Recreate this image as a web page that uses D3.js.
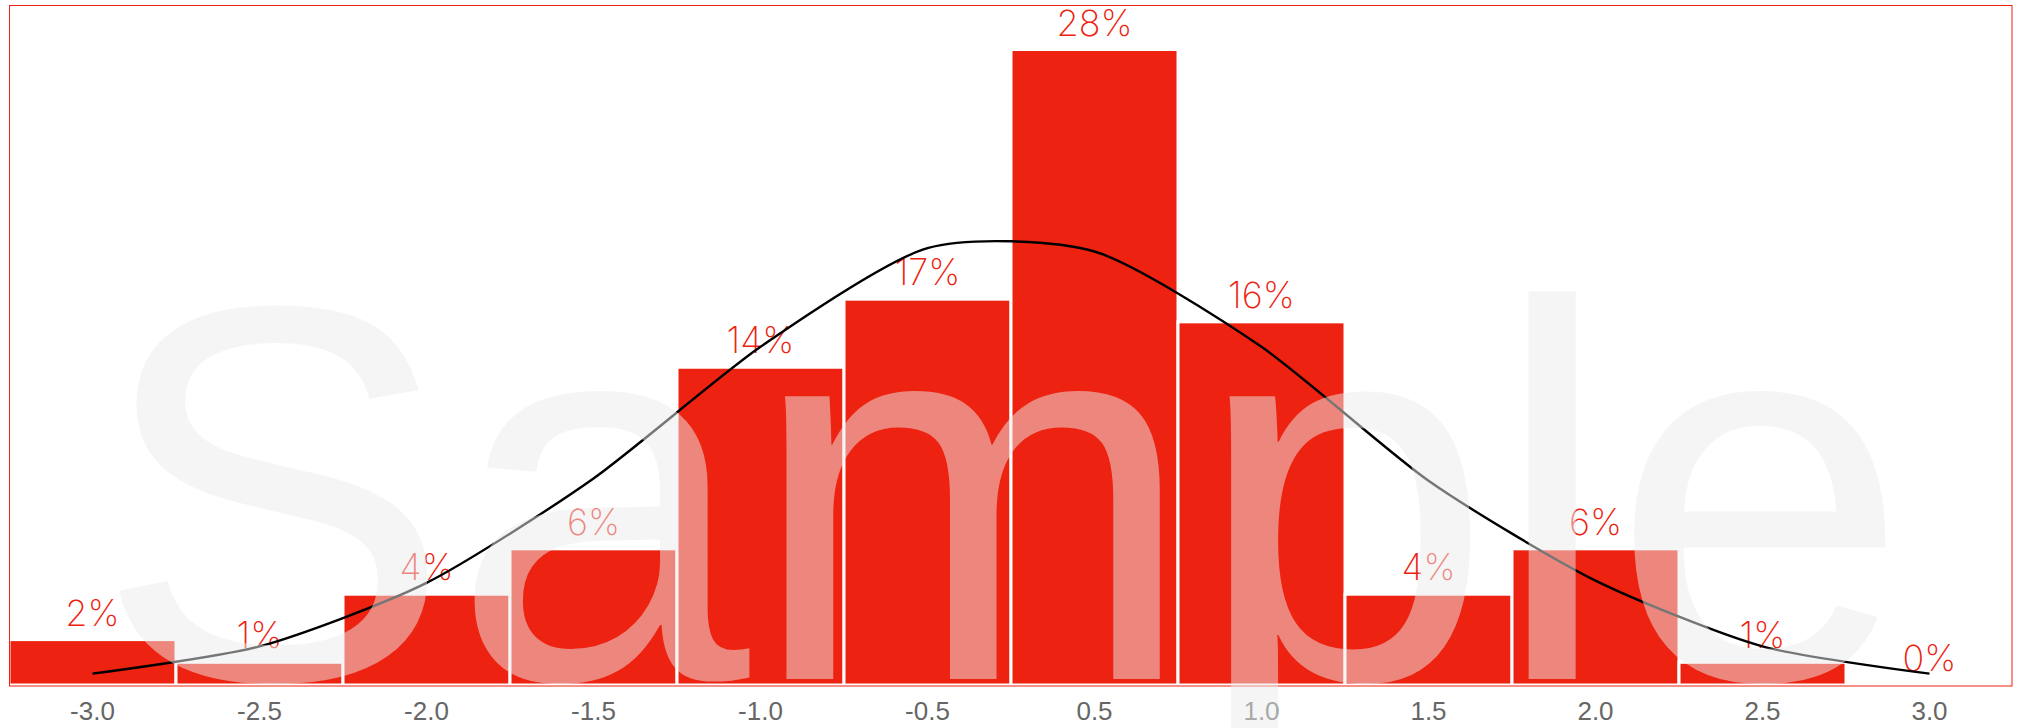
<!DOCTYPE html>
<html>
<head>
<meta charset="utf-8">
<script src="https://cdn.jsdelivr.net/npm/d3@7"></script>
<style>
  html, body { margin: 0; padding: 0; background: #ffffff; }
  svg { display: block; }
</style>
</head>
<body>
<svg id="chart" width="2020" height="728"></svg>
<script>
// ---- data ----
const categories = ["-3.0", "-2.5", "-2.0", "-1.5", "-1.0", "-0.5", "0.5", "1.0", "1.5", "2.0", "2.5", "3.0"];
const barValues = [2, 1, 4, 6, 14, 17, 28, 16, 4, 6, 1, 0];
const curveValues = [0.5, 1.7, 4.5, 9.1, 14.9, 19.25, 19.1, 14.9, 9.0, 4.6, 1.7, 0.5];
const watermarkText = "Sample";

// ---- layout ----
const plot = { left: 9, right: 2013, top: 5.5, bottom: 685 };
const RED = "#ee2210";

const svg = d3.select("#chart");

const x = d3.scaleBand()
  .domain(categories)
  .range([plot.left, plot.right])
  .paddingInner(0)
  .paddingOuter(0);

const y = d3.scaleLinear()
  .domain([0, 28])
  .range([plot.bottom, 49.5]);

const data = categories.map((c, i) => ({ cat: c, v: barValues[i], curve: curveValues[i] }));

// bars
svg.append("g")
  .selectAll("rect")
  .data(data.filter(d => d.v > 0))
  .join("rect")
  .attr("x", d => x(d.cat))
  .attr("y", d => y(d.v))
  .attr("width", x.bandwidth())
  .attr("height", d => y(0) - y(d.v))
  .attr("fill", RED)
  .attr("stroke", "#ffffff")
  .attr("stroke-width", 3);

// value labels
svg.append("g")
  .selectAll("text")
  .data(data)
  .join("text")
  .attr("x", d => x(d.cat) + x.bandwidth() / 2)
  .attr("y", d => y(d.v) - 14)
  .attr("text-anchor", "middle")
  .attr("font-family", "Inter, Roboto, 'Helvetica Neue', Helvetica, Arial, sans-serif")
  .attr("font-weight", 200)
  .attr("font-size", 36)
  .attr("fill", RED)
  .text(d => d.v + "%");

// curve
const line = d3.line()
  .x(d => x(d.cat) + x.bandwidth() / 2)
  .y(d => y(d.curve))
  .curve(d3.curveCardinal.tension(0.3));

svg.append("path")
  .datum(data)
  .attr("d", line)
  .attr("fill", "none")
  .attr("stroke", "#000000")
  .attr("stroke-width", 2.4)
  .attr("stroke-linejoin", "round");

// frame
svg.append("rect")
  .attr("x", plot.left + 0.5)
  .attr("y", plot.top)
  .attr("width", plot.right - 1 - plot.left - 0.5)
  .attr("height", 686 - plot.top)
  .attr("fill", "none")
  .attr("stroke", RED)
  .attr("stroke-width", 1);

// x axis
const xAxis = d3.axisBottom(x).tickSize(0).tickPadding(0);
const gx = svg.append("g")
  .attr("transform", "translate(0,686)")
  .call(xAxis);
gx.select(".domain").remove();
gx.selectAll("text")
  .attr("y", 34)
  .attr("dy", null)
  .attr("font-family", "'Helvetica Neue', Helvetica, 'Liberation Sans', Arial, sans-serif")
  .attr("font-size", 26)
  .attr("fill", "#666666");

// watermark on top
svg.append("text")
  .attr("x", 1002)
  .attr("y", 679)
  .attr("text-anchor", "middle")
  .attr("font-family", "'Liberation Sans', Arial, Helvetica, sans-serif")
  .attr("font-size", 535)
  .attr("fill", "rgb(235,235,235)")
  .attr("fill-opacity", 0.5)
  .style("pointer-events", "none")
  .text(watermarkText);
</script>
</body>
</html>
